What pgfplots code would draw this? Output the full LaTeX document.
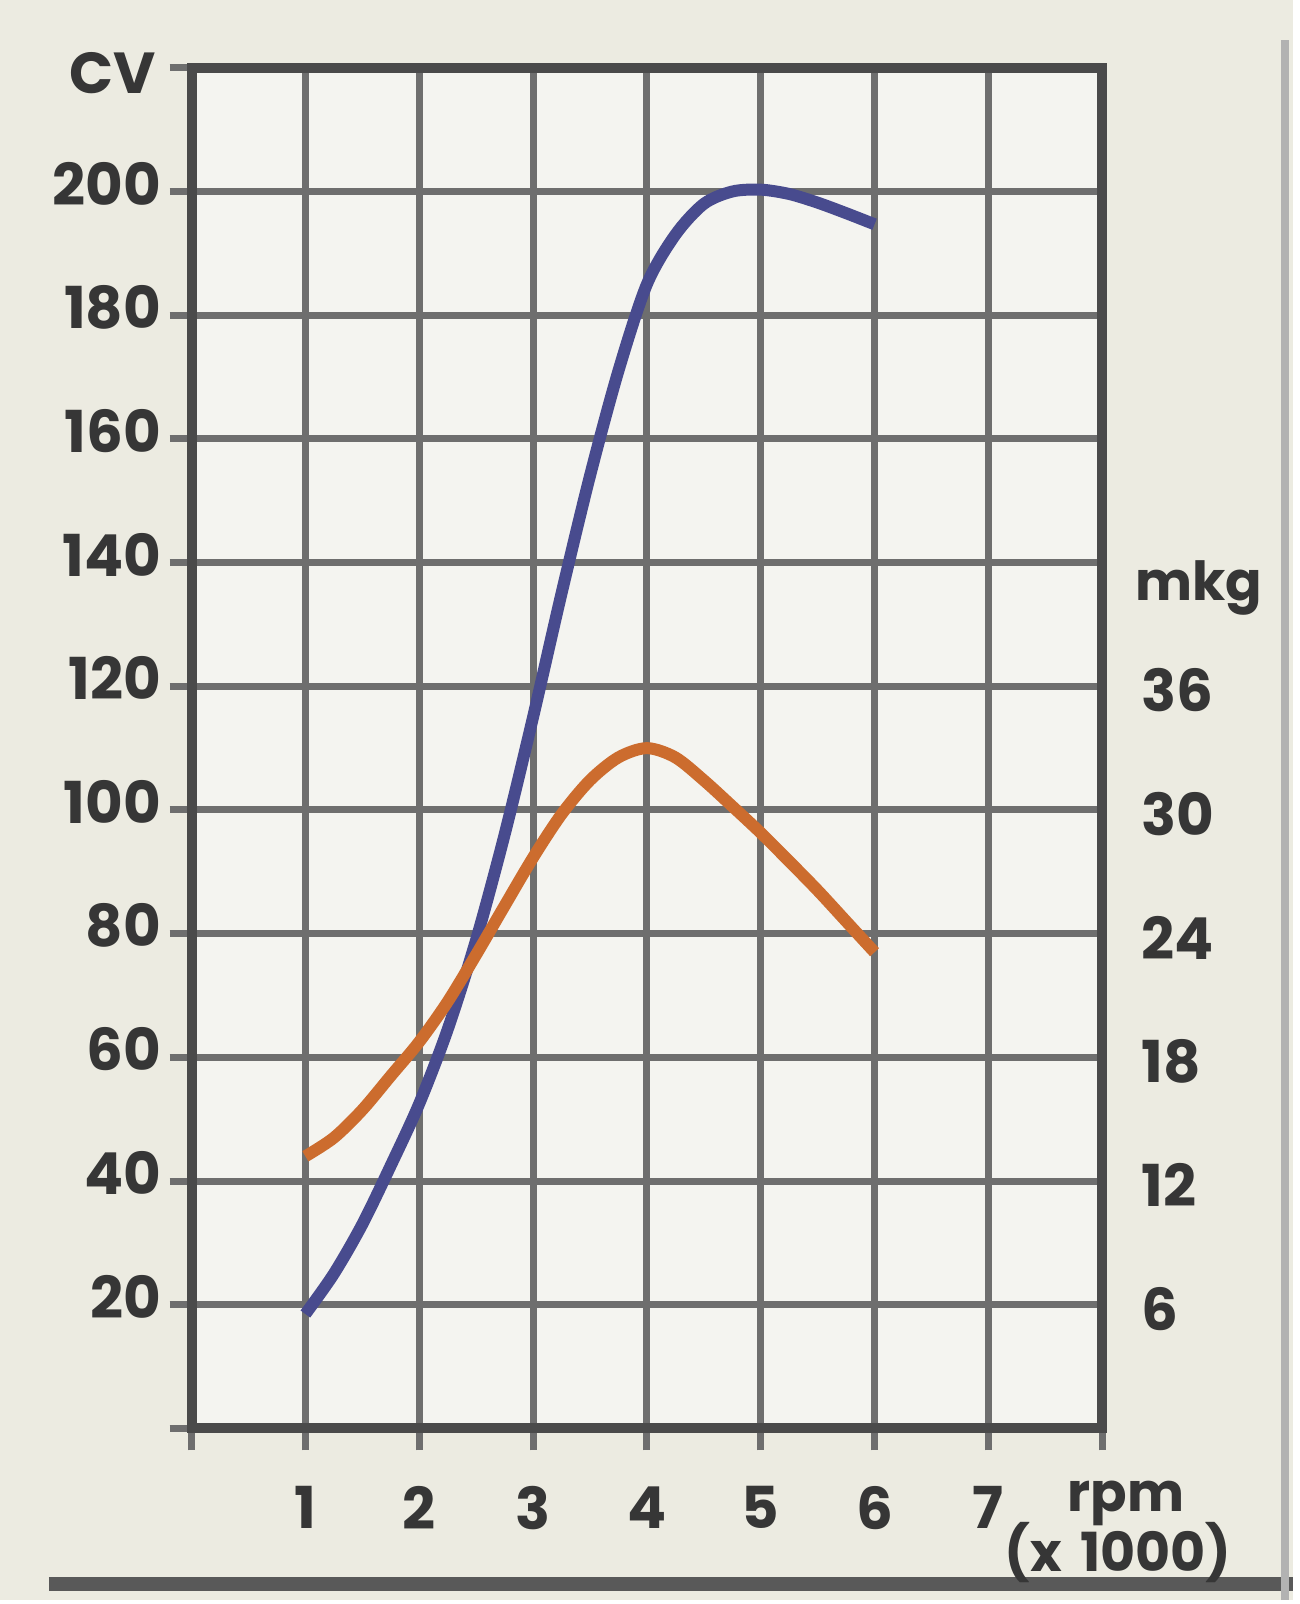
\documentclass[border=0pt]{standalone}
\usepackage{fontspec}
\setmainfont{Poppins}
\usepackage{pgfplots}
\pgfplotsset{compat=1.18}
\definecolor{bg}{HTML}{ECEBE1}
\definecolor{panel}{HTML}{F4F4F0}
\definecolor{gridc}{HTML}{6E6E6E}
\definecolor{framec}{HTML}{4A4A4A}
\definecolor{txt}{HTML}{363636}
\definecolor{pblue}{RGB}{72,75,142}
\definecolor{porange}{RGB}{204,108,46}
\newcommand{\lblfont}{\fontsize{29}{29}\selectfont\bfseries}
\begin{document}
\begin{tikzpicture}[x=1pt,y=1pt]
\fill[bg] (0,0) rectangle (648,802);
\draw[line width=7pt, color=black!65] (24.5,8) -- (648,8);
\draw[line width=4pt, color=black!30] (644,0) -- (644,782);
\begin{axis}[
  at={(96pt,86pt)}, anchor=south west,
  scale only axis, width=456.5pt, height=682pt,
  xmin=0, xmax=8, ymin=0, ymax=220,
  axis background/.style={fill=panel},
  xtick={0,...,8}, xticklabels={,1,2,3,4,5,6,7,},
  ytick={0,20,...,220}, yticklabels={,20,40,60,80,100,120,140,160,180,200,},
  tick pos=left, tick align=outside, major tick length=11pt,
  grid=major, grid style={line width=3.5pt, color=gridc},
  axis line style={line width=5pt, color=framec},
  tick style={line width=3.5pt, color=gridc},
  tick label style={font=\lblfont, text=txt, inner sep=0pt},
  yticklabel style={xshift=-4pt, yshift=4pt},
  xticklabel style={yshift=-18pt},
  clip=false,
]
\addplot[pblue, line width=6pt, smooth] coordinates {
(1.0,18.5) (1.25,25) (1.5,33) (1.75,42.5) (2.0,52.5) (2.25,64.5) (2.5,79)
(2.75,96) (3.0,115) (3.25,135) (3.5,154) (3.75,171) (4.0,185) (4.25,193)
(4.5,198) (4.75,200) (5.0,200.3) (5.25,199.6) (5.5,198.2) (5.75,196.5) (6.0,194.7)};
\node[anchor=east, font=\lblfont, text=txt, inner sep=0pt] at ([xshift=-17.5pt, yshift=-2.5pt]rel axis cs:0,1) {CV};
\node[anchor=west, font=\fontsize{27}{27}\selectfont\bfseries, text=txt, inner sep=0pt] at ([xshift=16.5pt]rel axis cs:1,0.618) {mkg};
\node[anchor=base west, font=\fontsize{27}{27}\selectfont\bfseries, text=txt, inner sep=0pt] at ([xshift=-17.5pt, yshift=-41.5pt]rel axis cs:1,0) {rpm};
\node[anchor=base west, font=\fontsize{27}{27}\selectfont\bfseries, text=txt, inner sep=0pt] at ([xshift=-49pt, yshift=-71.5pt]rel axis cs:1,0) {(x\hspace{9pt}1000)};
\end{axis}
\begin{axis}[
  at={(96pt,86pt)}, anchor=south west,
  scale only axis, width=456.5pt, height=682pt,
  xmin=0, xmax=8, ymin=0, ymax=66,
  hide x axis,
  axis y line*=right,
  y axis line style={draw=none},
  ytick={6,12,18,24,30,36}, yticklabels={6,12,18,24,30,36},
  major tick length=0pt,
  tick label style={font=\lblfont, text=txt, inner sep=0pt},
  yticklabel style={anchor=west, xshift=19.5pt, yshift=-2pt},
  clip=false,
]
\addplot[porange, line width=6pt, smooth] coordinates {
(1.0,13.2) (1.25,14.1) (1.5,15.45) (1.75,17.1) (2.0,18.75) (2.25,20.7) (2.5,22.98)
(2.75,25.35) (3.0,27.69) (3.25,29.79) (3.5,31.44) (3.75,32.55) (4.0,33.0)
(4.25,32.55) (4.5,31.44) (4.75,30.18) (5.0,28.89) (5.25,27.51) (5.5,26.1)
(5.75,24.6) (6.0,23.1)};
\end{axis}
\end{tikzpicture}
\end{document}
